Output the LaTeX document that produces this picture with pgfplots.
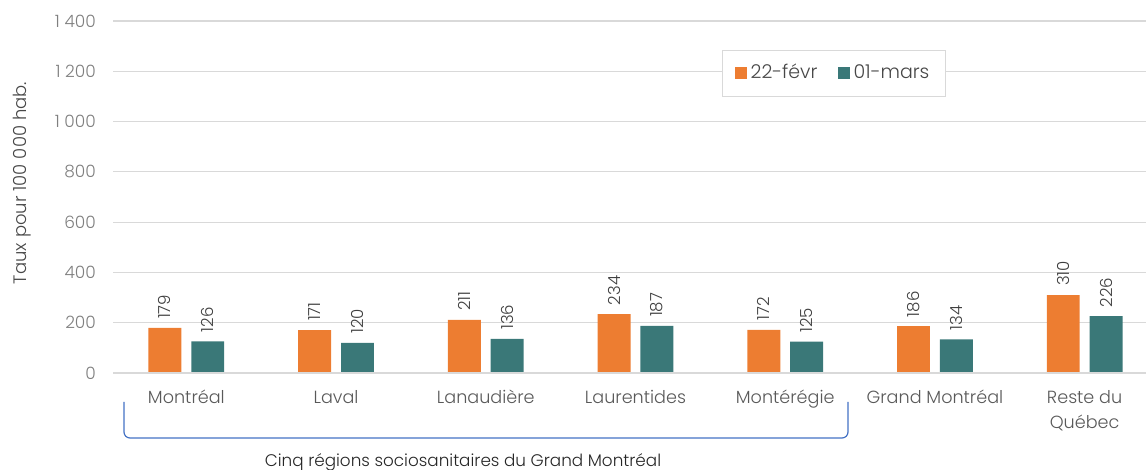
\documentclass[border=0pt]{standalone}
\usepackage{pgfplots}
\pgfplotsset{compat=1.18}
\usepackage{fontspec}
\setmainfont{Poppins}[UprightFont=* Light]
\definecolor{cOr}{HTML}{ED7D31}
\definecolor{cTe}{HTML}{3A7878}
\definecolor{cGrid}{HTML}{D9D9D9}
\definecolor{cTick}{HTML}{7F7F7F}
\definecolor{cTxt}{HTML}{595959}
\definecolor{cBr}{HTML}{4472C4}
\begin{document}
\begin{tikzpicture}
\useasboundingbox (-56.5pt,-48.5pt) rectangle (516.5pt,186.5pt);
\begin{axis}[
  scale only axis, width=516.5pt, height=176pt,
  xmin=-0.49, xmax=6.41, ymin=0, ymax=1400,
  ytick={0,200,...,1400},
  xtick={0,1,2,3,4,5,6},
  xticklabels={Montréal,Laval,Lanaudière,Laurentides,Montérégie,Grand Montréal,{Reste du\\Québec}},
  xticklabel style={align=center, font=\fontsize{8.8}{12.5}\selectfont, text=cTxt, anchor=north, yshift=-5pt},
  yticklabel style={font=\fontsize{8.5}{10}\selectfont, text=cTick, anchor=east, xshift=-5pt},
  /pgf/number format/assume math mode=true,
  /pgf/number format/1000 sep={\ },
  major tick length=0pt,
  axis line style={draw=none},
  ymajorgrids, grid style={cGrid, line width=0.6pt},
  ybar, bar width=0.22, 
  ylabel={Taux pour 100 000 hab.},
  ylabel style={at={(axis description cs:-0.088,0.54)}, anchor=center, font=\fontsize{9}{11}\selectfont, text=cTxt!80!black},
  nodes near coords,
  every node near coord/.append style={rotate=90, anchor=west, font=\fontsize{8.3}{10}\selectfont, text=cTxt!70!black, xshift=1pt},
  legend columns=2,
  legend style={at={(axis description cs:0.698,0.852)}, anchor=center, draw=cGrid, font=\fontsize{9.5}{11}\selectfont, text=cTxt!80!black, inner xsep=6pt, inner ysep=5pt, /tikz/every even column/.append style={column sep=8pt}},
  legend image code/.code={\fill[#1] (0pt,-3pt) rectangle (6pt,3pt);},
  clip=false,
]
\addplot[fill=cOr, draw=none, bar shift=-0.143] coordinates {(0,179) (1,171) (2,211) (3,234) (4,172) (5,186) (6,310)};
\addplot[fill=cTe, draw=none, bar shift=0.143] coordinates {(0,126) (1,120) (2,136) (3,187) (4,125) (5,134) (6,226)};
\legend{22-févr,01-mars}
\draw[cGrid, line width=0.6pt] (axis cs:-0.49,0) -- (axis cs:6.41,0);
\end{axis}
\draw[cBr, line width=0.6pt, rounded corners=3pt] (5.5pt,-14.5pt) -- (5.5pt,-32.5pt) -- (367.5pt,-32.5pt) -- (367.5pt,-14.5pt);
\node[font=\fontsize{8.4}{10}\selectfont, text=black!85] at (175pt,-44.5pt) {Cinq régions sociosanitaires du Grand Montréal};
\end{tikzpicture}
\end{document}
